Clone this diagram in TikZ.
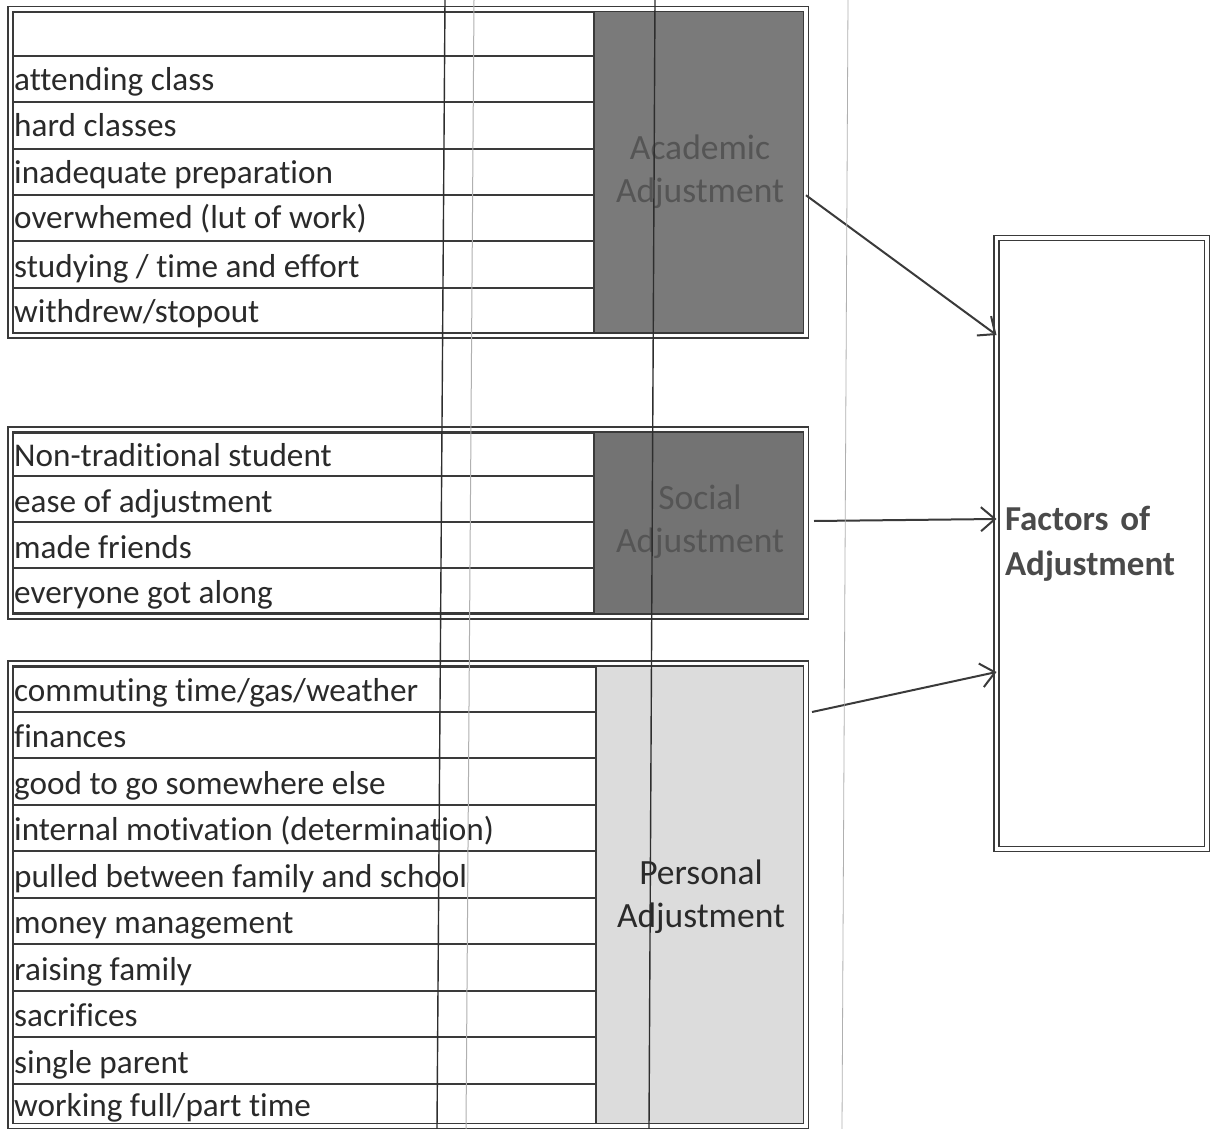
\documentclass[tikz,border=0pt]{standalone}
\usepackage{fontspec}
\setmainfont{Carlito}[Ligatures=NoCommon]
\usetikzlibrary{arrows.meta}
\definecolor{ln}{HTML}{3A3A3A}
\definecolor{acadfill}{HTML}{7A7A7A}
\definecolor{socfill}{HTML}{737373}
\definecolor{persfill}{HTML}{DCDCDC}
\definecolor{itemtxt}{HTML}{2A2A2A}
\definecolor{dimtxt}{HTML}{555555}
\definecolor{factxt}{HTML}{4A4A4A}
\definecolor{scanline}{HTML}{2E2E2E}
\definecolor{scanlight}{HTML}{B0B0B0}
\tikzset{
  dbox/.style={draw=ln, double=white, double distance=3.4pt, line width=1.5pt,
    inner sep=0pt, outer sep=0pt},
  cell/.style={draw=ln, line width=1.8pt},
  item/.style={anchor=base west, inner sep=0pt, text=itemtxt,
    font=\fontsize{33.2}{40}\selectfont},
  lab/.style={align=center, inner sep=0pt,
    font=\fontsize{35.5}{43}\selectfont},
  arr/.style={draw=ln, line width=2pt,
    -{Straight Barb[length=14pt,width=24pt,line width=2pt]}},
}
\begin{document}
\begin{tikzpicture}[x=1pt,y=-1pt]
\useasboundingbox (0,0) rectangle (1211,1129);
\fill[white] (0,0) rectangle (1211,1129);

% label column fills
\fill[acadfill] (594,12) rectangle (805,333);
\fill[socfill] (594,433) rectangle (805,613);
\fill[persfill] (596,667) rectangle (805,1124);

% ---------- Academic ----------
\foreach \t/\b in {12.5/56,56/102,102/149,149/195,195/241,241/288,288/333}
  \draw[cell] (12.5,\t) rectangle (594,\b);
\draw[cell] (594,12.5) -- (594,333);
\node[item] (a1) at (14,91) {attending class};
\node[item] (a2) at (14,137) {hard classes};
\node[item] (a3) at (14,184) {inadequate preparation};
\node[item] (a4) at (14,229) {overwhemed (lut of work)};
\node[item] (a5) at (14,277) {studying / time and effort};
\node[item] (a6) at (14,322) {withdrew/stopout};
\node[lab, text=dimtxt] (acadlab) at (700,172) {Academic\\Adjustment};
\node[dbox, minimum width=795.5pt, minimum height=326.5pt] (acad) at (408.25,172.25) {};

% ---------- Social ----------
\foreach \t/\b in {433/476,476/522,522/568,568/613}
  \draw[cell] (12.5,\t) rectangle (594,\b);
\draw[cell] (594,433) -- (594,613);
\node[item] (s1) at (14,466) {Non-traditional student};
\node[item] (s2) at (14,512) {ease of adjustment};
\node[item] (s3) at (14,558) {made friends};
\node[item] (s4) at (14,603) {everyone got along};
\node[lab, text=dimtxt] (soclab) at (700,522) {Social\\Adjustment};
\node[dbox, minimum width=795.5pt, minimum height=187pt] (soc) at (408.25,523) {};

% ---------- Personal ----------
\foreach \t/\b in {667/712,712/758,758/805,805/851,851/898,898/944,944/991,991/1037,1037/1084,1084/1124}
  \draw[cell] (12.5,\t) rectangle (596,\b);
\draw[cell] (596,667) -- (596,1124);
\node[item] (p1) at (14,701) {commuting time/gas/weather};
\node[item] (p2) at (14,747) {finances};
\node[item] (p3) at (14,794) {good to go somewhere else};
\node[item] (p4) at (14,840) {internal motivation (determination)};
\node[item] (p5) at (14,887) {pulled between family and school};
\node[item] (p6) at (14,933) {money management};
\node[item] (p7) at (14,980) {raising family};
\node[item] (p8) at (14,1026) {sacrifices};
\node[item] (p9) at (14,1073) {single parent};
\node[item] (p10) at (14,1116) {working full/part time};
\node[lab, text=itemtxt] (perslab) at (701,897) {Personal\\Adjustment};
\node[dbox, minimum width=795.5pt, minimum height=462.5pt] (pers) at (408.25,894.75) {};

% ---------- Factors ----------
\node[dbox, minimum width=210.5pt, minimum height=611pt, text width=193.5pt,
  align=left, font=\fontsize{35}{45}\selectfont\bfseries, text=factxt]
  (fac) at (1101.75,543.5) {Factors of\\Adjustment};

% ---------- connectors ----------
\draw[arr] ([yshift=-23pt]acad.east) -- ([yshift=208.5pt]fac.west);
\draw[arr] ([xshift=8pt,yshift=2pt]soc.east) -- ([yshift=24.5pt]fac.west);
\draw[arr] ([xshift=6pt,yshift=182.75pt]pers.east) -- ([yshift=-128.5pt]fac.west);

% ---------- scan artefact lines ----------
\draw[scanline, line width=1.4pt] (445,0) -- (437,1129);
\draw[scanlight, line width=1pt] (474,0) -- (466,1129);
\draw[scanline, line width=1.4pt] (655,0) -- (649,1129);
\draw[scanlight, line width=0.8pt] (848,0) -- (842,1129);
\end{tikzpicture}
\end{document}
